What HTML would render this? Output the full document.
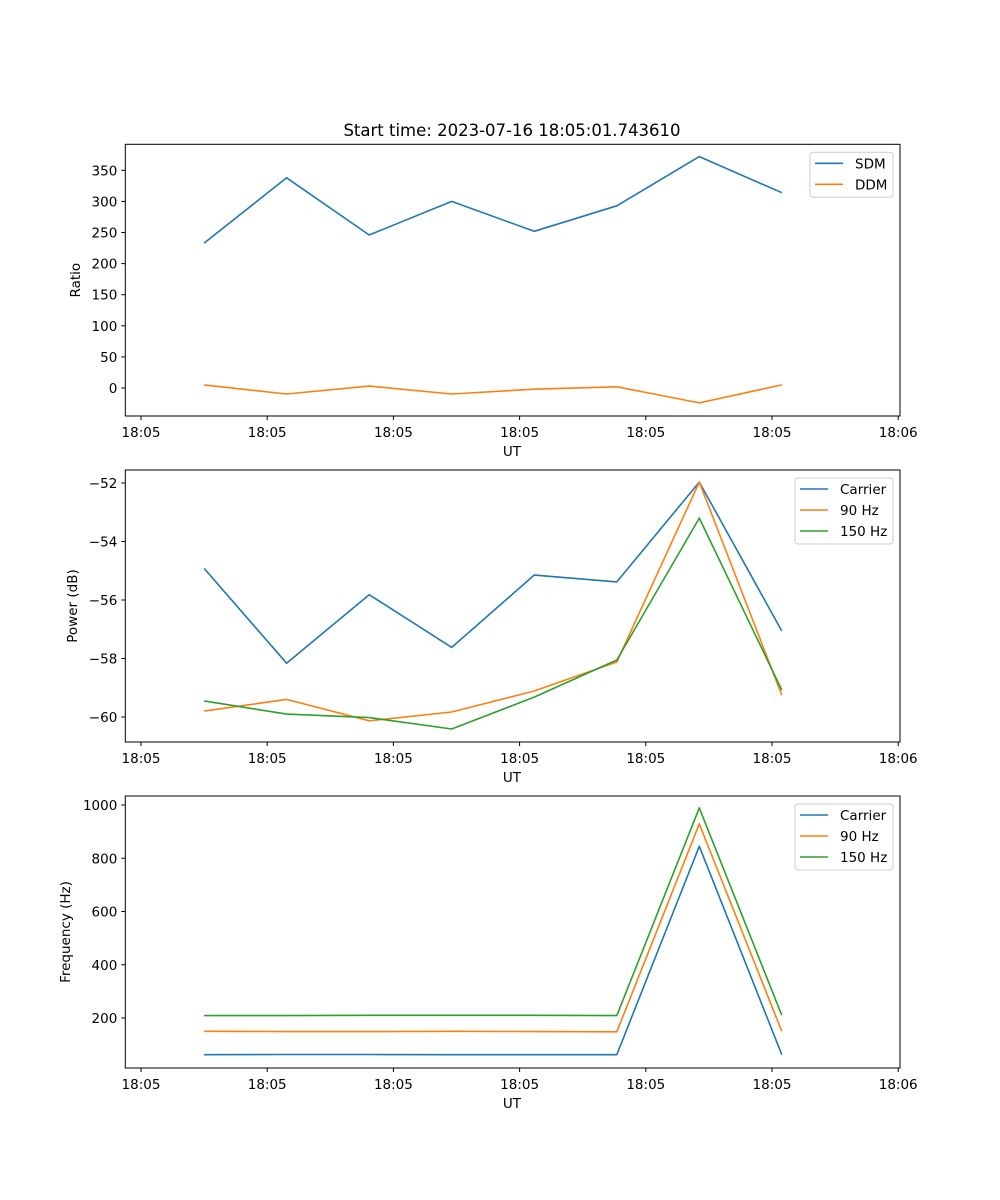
<!DOCTYPE html>
<html><head><meta charset="utf-8"><style>
body{margin:0;background:#fff}
svg{display:block;font-family:"DejaVu Sans","Liberation Sans",sans-serif}
</style></head><body>
<svg id="fig" width="1000" height="1200">
<text x="512" y="136" font-size="16.5" text-anchor="middle">Start time: 2023-07-16 18:05:01.743610</text>
</svg>
<script>
const xTickLabels = ["18:05","18:05","18:05","18:05","18:05","18:05","18:06"];
const xTickVals = [0,1,2,3,4,5,6];
const times = [0.5,1.154,1.808,2.462,3.116,3.77,4.424,5.078];
const sdm = [233,338,246,300,252,293,372,314];
const ddm = [5,-9.6,3,-9.6,-2,2,-24,5];
const p1Ticks = [0,50,100,150,200,250,300,350];
const pwCarrier = [-54.92,-58.16,-55.82,-57.62,-55.15,-55.38,-51.97,-57.06];
const pw90 = [-59.8,-59.4,-60.13,-59.83,-59.11,-58.12,-51.97,-59.25];
const pw150 = [-59.45,-59.9,-60.02,-60.41,-59.32,-58.05,-53.2,-59.08];
const p2Ticks = [-60,-58,-56,-54,-52];
const frCarrier = [62,63,63,62,62,62,845,62];
const fr90 = [150,149,149,150,149,148,929,150];
const fr150 = [209,209,210,210,210,209,989,210];
const p3Ticks = [200,400,600,800,1000];

const C = ['#1f77b4','#ff7f0e','#2ca02c'];
const NS = 'http://www.w3.org/2000/svg';
const svg = document.getElementById('fig');
function mk(tag, attrs, parent){const e=document.createElementNS(NS,tag);for(const k in attrs)e.setAttribute(k,attrs[k]);(parent||svg).appendChild(e);return e;}
const X0=125.3, X1=900, xPix = v => 141 + v*126.2;
const FS = 13.5;

function panel(name, top, bottom, yv0, yp0, yv1, yp1, ticks, series, labels, ytitle, legW){
  const g = mk('g',{});
  
  
  const yPix = v => yp0 + (v-yv0)*(yp1-yp0)/(yv1-yv0);
  series.forEach((s,i)=>{
    const pts = s.map((v,j)=>xPix(times[j]).toFixed(1)+','+yPix(v).toFixed(1)).join(' ');
    const l = mk('polyline',{points:pts,fill:'none',stroke:C[i],'stroke-width':1.6,'stroke-linejoin':'round'},g);
    
    
  });
  const fr = mk('rect',{x:X0,y:top,width:X1-X0,height:bottom-top,fill:'none',stroke:'#000','stroke-width':1},g);
  
  
  xTickVals.forEach((t,i)=>{
    const x=xPix(t);
    mk('line',{x1:x,x2:x,y1:bottom,y2:bottom+4,stroke:'#000'},g);
    const tx = mk('text',{x:x,y:bottom+21,'font-size':FS,'text-anchor':'middle'},g);
    tx.textContent = xTickLabels[i];
    
    
  });
  const xt = mk('text',{x:512,y:bottom+40,'font-size':FS,'text-anchor':'middle'},g);
  xt.textContent='UT';
  
  
  ticks.forEach(t=>{
    const y=yPix(t);
    mk('line',{x1:X0-4,x2:X0,y1:y,y2:y,stroke:'#000'},g);
    const tx = mk('text',{x:X0-8,y:y+5,'font-size':FS,'text-anchor':'end'},g);
    tx.textContent = t<0 ? '\u2212'+Math.abs(t) : String(t);
    
    
  });
  const yt = mk('text',{x:0,y:0,'font-size':FS,'text-anchor':'middle',transform:`translate(${ytitle[1]},${(top+bottom)/2}) rotate(-90)`},g);
  yt.textContent = ytitle[0];
  
  
  const lx = 893-legW, ly = top+8, lh = 3+labels.length*21;
  const lg = mk('g',{},g);
  
  
  mk('rect',{x:lx,y:ly,width:legW,height:lh,rx:3,fill:'#fff','fill-opacity':0.8,stroke:'#ccc'},lg);
  labels.forEach((lab,i)=>{
    const y = ly+11+i*21;
    mk('line',{x1:lx+5,x2:lx+33,y1:y,y2:y,stroke:C[i],'stroke-width':1.6},lg);
    const tx = mk('text',{x:lx+45,y:y+5,'font-size':FS},lg);
    tx.textContent = lab;
    
    
  });
}
panel('ratio-panel',144.3,416,0,388,350,170.3,p1Ticks,[sdm,ddm],['SDM','DDM'],['Ratio',80],83);
panel('power-panel',470,742,-52,483,-60,717,p2Ticks,[pwCarrier,pw90,pw150],['Carrier','90 Hz','150 Hz'],['Power (dB)',77],98);
panel('frequency-panel',796,1068,1000,805,200,1018,p3Ticks,[frCarrier,fr90,fr150],['Carrier','90 Hz','150 Hz'],['Frequency (Hz)',70],98);
</script>
</body></html>
